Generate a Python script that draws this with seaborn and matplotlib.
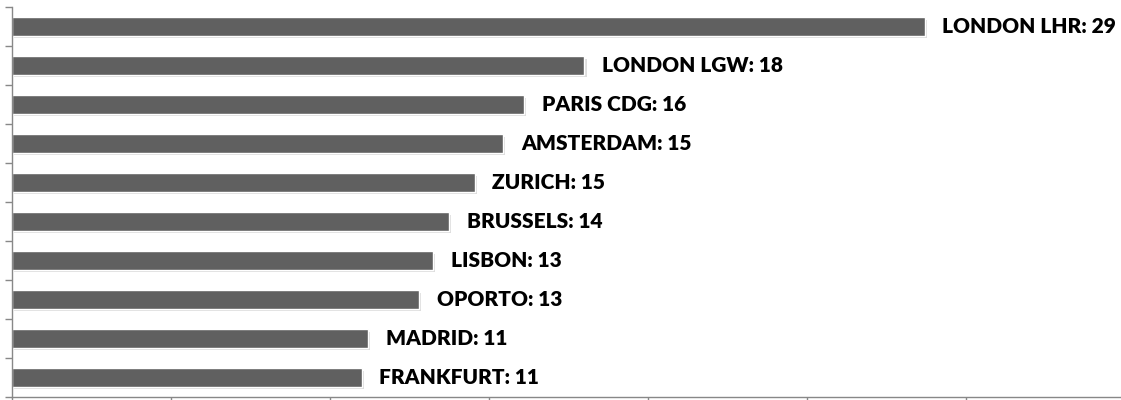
import pandas as pd
import matplotlib
matplotlib.use("Agg")
import matplotlib.pyplot as plt
import matplotlib.patheffects as pe
import seaborn as sns

# ---- data ----
airports = ["LONDON LHR", "LONDON LGW", "PARIS CDG", "AMSTERDAM", "ZURICH",
            "BRUSSELS", "LISBON", "OPORTO", "MADRID", "FRANKFURT"]
values = [28.7, 18.0, 16.1, 15.45, 14.55, 13.75, 13.25, 12.8, 11.2, 11.0]

df = pd.DataFrame({"airport": airports, "value": values})

sns.set_style("white")
plt.rcParams["font.family"] = ["Lato", "DejaVu Sans"]

fig = plt.figure(figsize=(11.21, 4.0), dpi=100)
ax = fig.add_axes([12 / 1121, 3 / 400, 1 - 12 / 1121, 390 / 400])

sns.barplot(data=df, x="value", y="airport", orient="h", color="#606060",
            width=0.47, saturation=1, edgecolor="white", linewidth=1, ax=ax)

for bar in ax.patches:
    bar.set_path_effects([pe.SimplePatchShadow(offset=(1.5, -2), shadow_rgbFace="#909090", alpha=0.3),
                          pe.Normal()])

for i, (name, v) in enumerate(zip(airports, values)):
    ax.text(v + 0.55, i, f"{name}: {round(v)}", va="center", ha="left",
            fontsize=15, fontweight="heavy", color="black")

ax.set_xlim(0, 34.87)
ax.set_ylim(9.5, -0.5)
ax.set_xticks(range(0, 35, 5))
ax.set_yticks([k - 0.5 for k in range(11)])
ax.set_xticklabels([])
ax.set_yticklabels([])
ax.set_xlabel("")
ax.set_ylabel("")
ax.tick_params(axis="both", length=5, width=1, color="#888888", direction="out",
               bottom=True, left=True)
for s in ["top", "right"]:
    ax.spines[s].set_visible(False)
for s in ["left", "bottom"]:
    ax.spines[s].set_color("#888888")
    ax.spines[s].set_linewidth(1)

fig.savefig("out.png", dpi=100)
